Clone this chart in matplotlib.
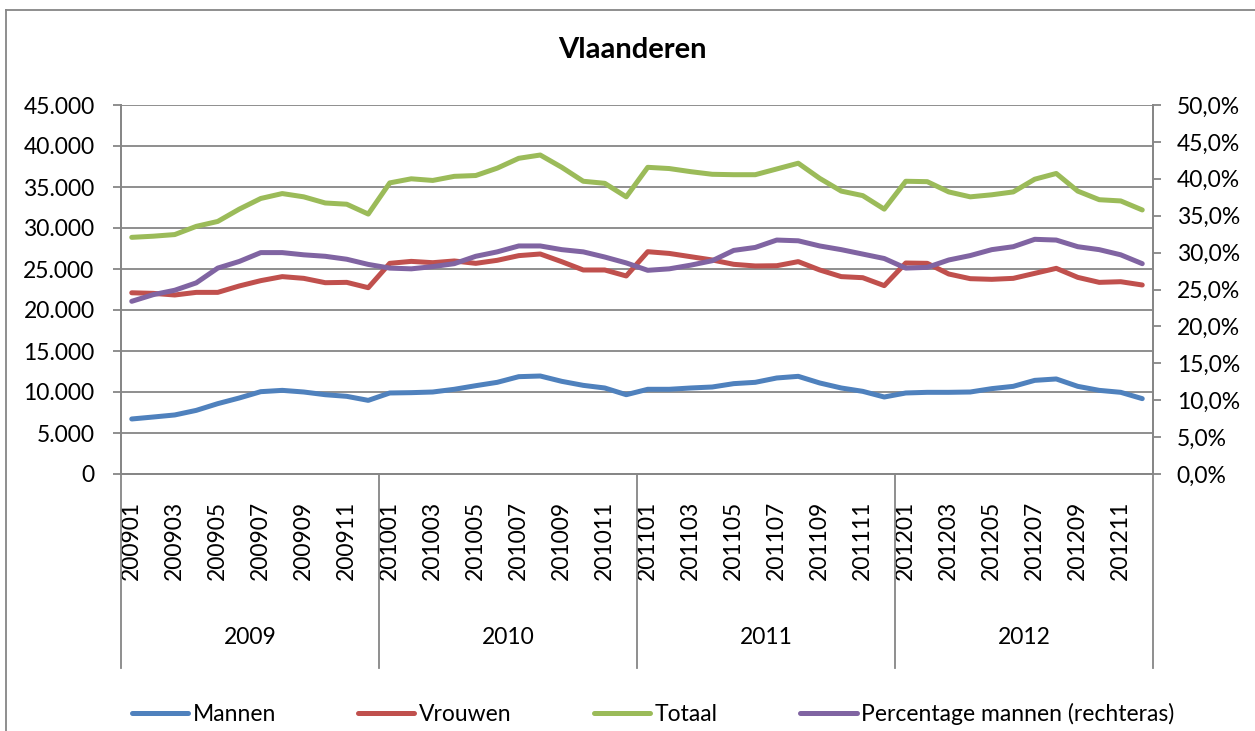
import matplotlib
matplotlib.use("Agg")
import matplotlib.pyplot as plt
from matplotlib.lines import Line2D
from matplotlib.ticker import FuncFormatter

# maandelijkse reeksen Vlaanderen 2009-2012
jaren = ["2009", "2010", "2011", "2012"]
maanden = [j + "%02d" % m for j in jaren for m in range(1, 13)]

mannen = [6710, 6950, 7200, 7760, 8580, 9270, 10040, 10200, 10000, 9670, 9470, 8980,
          9880, 9920, 10000, 10330, 10770, 11180, 11870, 11950, 11300, 10810, 10490, 9670,
          10330, 10330, 10490, 10610, 11020, 11180, 11710, 11910, 11100, 10490, 10080, 9390,
          9880, 9960, 9960, 10000, 10410, 10690, 11420, 11590, 10690, 10200, 9960, 9190]
vrouwen = [22100, 22030, 21830, 22150, 22150, 22930, 23580, 24070, 23860, 23330, 23370, 22720,
           25690, 25930, 25770, 25980, 25690, 26060, 26630, 26830, 25890, 24880, 24880, 24150,
           27110, 26900, 26500, 26100, 25570, 25370, 25400, 25900, 24880, 24070, 23940, 22970,
           25730, 25690, 24390, 23820, 23740, 23860, 24470, 25080, 23980, 23370, 23450, 23050]
totaal = [28860, 29000, 29200, 30200, 30800, 32300, 33600, 34200, 33800, 33050, 32900, 31700,
          35500, 36000, 35800, 36300, 36400, 37300, 38500, 38900, 37400, 35700, 35450, 33800,
          37400, 37250, 36870, 36550, 36500, 36500, 37200, 37900, 36050, 34500, 33950, 32300,
          35700, 35650, 34400, 33800, 34050, 34400, 35950, 36650, 34500, 33450, 33300, 32200]
pct_mannen = [23.4, 24.3, 24.9, 25.9, 27.9, 28.8, 30.0, 30.0, 29.7, 29.5, 29.1, 28.4,
              27.9, 27.8, 28.1, 28.5, 29.5, 30.1, 30.9, 30.9, 30.4, 30.1, 29.4, 28.6,
              27.6, 27.8, 28.3, 28.9, 30.3, 30.7, 31.7, 31.6, 30.9, 30.4, 29.8, 29.2,
              27.9, 28.0, 29.0, 29.6, 30.4, 30.8, 31.8, 31.7, 30.8, 30.4, 29.7, 28.5]

plt.rcParams["font.family"] = ["Lato", "DejaVu Sans"]
grijs = "#868686"
fs = 16.5
lw = 3.6

fig = plt.figure(figsize=(12.55, 7.31), dpi=100)
ax = fig.add_axes([121 / 1255, 1 - 474 / 731, (1153 - 121) / 1255, 369 / 731])
ax2 = ax.twinx()

x = list(range(len(maanden)))
kw = dict(lw=lw, solid_capstyle="round", solid_joinstyle="round")
l1, = ax.plot(x, mannen, color="#4F81BD", label="Mannen", **kw)
l2, = ax.plot(x, vrouwen, color="#C0504D", label="Vrouwen", **kw)
l3, = ax.plot(x, totaal, color="#9BBB59", label="Totaal", **kw)
l4, = ax2.plot(x, [p / 100 for p in pct_mannen], color="#8064A2",
               label="Percentage mannen (rechteras)", **kw)

ax.set_xlim(-0.5, len(maanden) - 0.5)
ax.set_ylim(0, 45000)
ax.set_yticks(range(0, 45001, 5000))
ax.yaxis.set_major_formatter(FuncFormatter(lambda v, p: "{:,.0f}".format(v).replace(",", ".")))
ax2.set_ylim(0, 0.5)
ax2.set_yticks([i * 0.05 for i in range(11)])
ax2.yaxis.set_major_formatter(FuncFormatter(lambda v, p: ("%.1f%%" % (v * 100)).replace(".", ",")))

ax.grid(axis="y", color=grijs, lw=1.3)
ax.set_axisbelow(True)
for a in (ax, ax2):
    a.spines["top"].set_visible(False)
    for s in ("left", "right", "bottom"):
        a.spines[s].set_color(grijs)
        a.spines[s].set_linewidth(1.3)
ax.tick_params(axis="y", length=6, width=1.3, color=grijs, pad=13, labelsize=fs)
ax2.tick_params(axis="y", length=6, width=1.3, color=grijs, pad=11, labelsize=fs)

ax.set_xticks(x[::2])
ax.set_xticklabels(maanden[::2], rotation=90)
ax.tick_params(axis="x", length=0, pad=19, labelsize=fs)

# scheidingslijnen en jaarlabels onder de as
tr = ax.get_xaxis_transform()
for k in range(len(jaren) + 1):
    ax.plot([k * 12 - 0.5] * 2, [0, -0.526], transform=tr, color=grijs, lw=1.3, clip_on=False)
for k, j in enumerate(jaren):
    ax.text(k * 12 + 5.5, -0.444, j, transform=tr, ha="center", va="center", fontsize=fs)

fig.text(632 / 1255, 1 - 50 / 731, "Vlaanderen", ha="center", va="center",
         fontsize=21, fontweight="bold")

fig.legend(handles=[l1, l2, l3, l4], loc="center", bbox_to_anchor=(653 / 1255, 1 - 714 / 731),
           ncol=4, frameon=False, fontsize=fs, handlelength=2.45, handletextpad=0.2,
           columnspacing=3.6)

# rand van het grafiekgebied
fig.add_artist(Line2D([6 / 1255, 6 / 1255], [1 - 10 / 731, -0.05], color=grijs, lw=1.3))
fig.add_artist(Line2D([6 / 1255, 1.05], [1 - 10 / 731, 1 - 10 / 731], color=grijs, lw=1.3))

fig.savefig("out.png", dpi=100)
